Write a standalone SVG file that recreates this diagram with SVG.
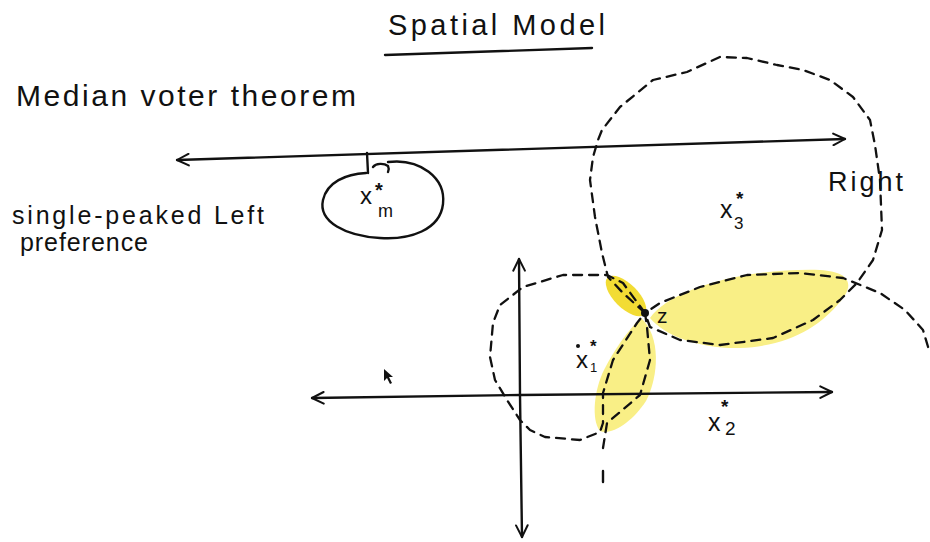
<svg xmlns="http://www.w3.org/2000/svg" width="930" height="542" viewBox="0 0 930 542">
<style>
.hand{font-family:"Liberation Sans","DejaVu Sans",sans-serif;fill:#111;}
.star{font-family:"Liberation Sans","DejaVu Sans",sans-serif;fill:#111;font-weight:bold;}
.ink{fill:none;stroke:#111;stroke-width:2.4;stroke-linecap:round;stroke-linejoin:round;}
.dash{fill:none;stroke:#111;stroke-width:2.3;stroke-dasharray:9 7;stroke-linecap:round;stroke-linejoin:round;}
.big{fill:#f9ef86;}
.small{fill:#f2dc34;}
</style>
<defs>
<marker id="chev" viewBox="0 0 12 12" refX="11" refY="6" markerWidth="14" markerHeight="14" markerUnits="userSpaceOnUse" orient="auto-start-reverse">
<path d="M1,1 L11,6 L1,11" fill="none" stroke="#111" stroke-width="1.7" stroke-linecap="round" stroke-linejoin="round"/>
</marker>
</defs>
<rect width="930" height="542" fill="#fff"/>

<g id="title">
<text class="hand" x="388" y="35" font-size="29" textLength="217" lengthAdjust="spacing">Spatial Model</text>
<path class="ink" d="M385 55 L592 48"/>
</g>

<g id="labels">
<text class="hand" x="16" y="106" font-size="30" textLength="340" lengthAdjust="spacing">Median voter theorem</text>
<text class="hand" x="12" y="224" font-size="25" textLength="252" lengthAdjust="spacing">single-peaked Left</text>
<text class="hand" x="20" y="251" font-size="25" textLength="128" lengthAdjust="spacing">preference</text>
<text class="hand" x="828" y="191" font-size="27" textLength="75" lengthAdjust="spacing">Right</text>
</g>

<g id="highlights">
<path class="big" d="M650 318 C670 290 740 268 820 270 C852 272 854 286 840 302 C820 326 790 346 740 348 C700 349 665 336 650 318 Z"/>
<path class="big" d="M641 318 C661 336 659 376 646 401 C633 421 612 436 600 431 C591 420 594 390 604 370 C614 350 628 330 641 318 Z"/>
<ellipse class="small" cx="626" cy="296" rx="26" ry="12" transform="rotate(45 626 296)"/>
</g>

<g id="connectors">
<path class="ink" d="M177 160 L845 139" marker-start="url(#chev)" marker-end="url(#chev)"/>
<path class="ink" d="M312 398 L520 395 L832 392" marker-start="url(#chev)" marker-end="url(#chev)"/>
<path class="ink" d="M519 259 L520 395 L522 537" marker-start="url(#chev)" marker-end="url(#chev)"/>
</g>

<g id="median-node">
<path class="ink" d="M367 153 L368 173"/>
<path class="ink" d="M373 167 C376 163 384 163 388 166 C389 168 389 170 388 172"/>
<path class="ink" d="M388 162 C420 158 446 178 443 204 C440 230 410 240 380 238 C346 236 318 222 323 200 C327 182 346 174 366 173"/>
<text class="hand" x="360" y="204" font-size="24">x</text>
<text class="star" x="375" y="197" font-size="20">*</text>
<text class="hand" x="378" y="217" font-size="18">m</text>
</g>

<g id="circle-x3">
<polyline class="dash" points="645,313 623,293 608,277 602,253 595,217 590,180 593,157 598,140 602,130 620,107 653,80 687,72 720,57 747,58 777,65 803,70 830,80 853,97 870,120 875,145 880,180 882,230 873,260 857,283 840,300 813,320 773,338 720,345 680,340 650,327 645,313"/>
<text class="hand" x="720" y="218" font-size="25">x</text>
<text class="star" x="736" y="205" font-size="19">*</text>
<text class="hand" x="734" y="229" font-size="17">3</text>
</g>

<g id="circle-x1">
<polyline class="dash" points="645,313 623,283 607,275 563,275 523,287 500,305 493,323 490,357 495,380 507,400 520,420 530,430 545,437 580,440 600,432 603,423 603,393 613,360 637,323 645,313"/>
<circle cx="578" cy="346" r="2" fill="#111"/>
<text class="hand" x="576" y="368" font-size="24">x</text>
<text class="star" x="590" y="352" font-size="17">*</text>
<text class="hand" x="590" y="372" font-size="13">1</text>
</g>

<g id="circle-x2">
<polyline class="dash" points="603,448 607,423 640,395 650,360 647,327 645,313 660,303 700,287 747,275 800,273 843,278 880,293 905,310 923,330 929,350"/>
<path class="ink" d="M603 471 L603 482"/>
<text class="star" x="721" y="413" font-size="19">*</text>
<text class="hand" x="708" y="431" font-size="25">x</text>
<text class="hand" x="725" y="435" font-size="19">2</text>
</g>

<g id="point-z">
<circle cx="645" cy="313" r="4" fill="#111"/>
<text class="hand" x="657" y="323" font-size="21">z</text>
</g>

<g id="cursor">
<path d="M384 369 L384 381 L387 378 L390 384 L392 383 L389 377 L393 377 Z" fill="#111"/>
</g>
</svg>
